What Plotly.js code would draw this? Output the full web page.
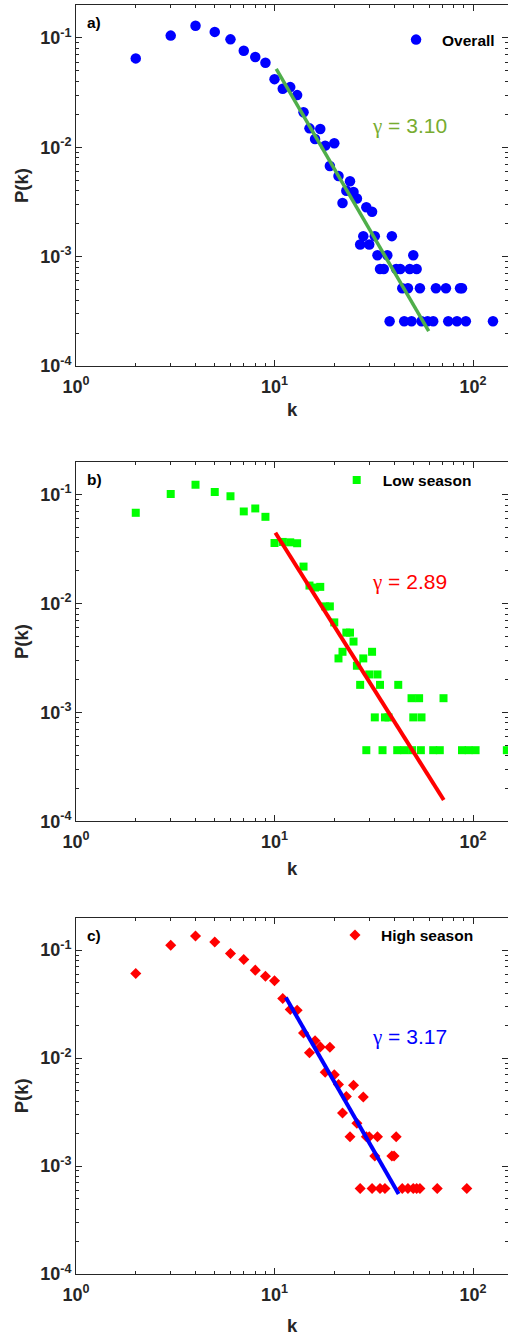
<!DOCTYPE html>
<html>
<head>
<meta charset="utf-8">
<script src="https://cdn.plot.ly/plotly-3.0.1.min.js"></script>
<style>html,body{margin:0;padding:0;background:#fff;}#chart{width:508px;height:1336px;}</style>
</head>
<body>
<div id="chart"></div>
<script>
// ---- Data ----
// a) Overall
const kA = [2,3,4,5,6,7,8,9,10,11,12,13,14,15,16,17,18,19,20,21,22,23,24,25,26,27,28,29,30,31,32,33,34,35.5,37,38,39,41,43,44,45,47,48,49,50,52,54,55,59,63,65,73,75,83,86,88,92,126];
const pA = [0.065,0.105,0.129,0.1135,0.097,0.0764,0.067,0.0593,0.042,0.0343,0.0355,0.030,0.0209,0.0149,0.0119,0.0147,0.01035,0.00675,0.0109,0.00546,0.0031,0.0040,0.0049,0.0039,0.0034,0.00129,0.00154,0.00283,0.00129,0.00257,0.00154,0.00103,0.00077,0.00077,0.00103,0.000257,0.00154,0.00077,0.00077,0.000514,0.000257,0.000514,0.00077,0.000257,0.00103,0.00077,0.000514,0.000257,0.000257,0.000257,0.000514,0.000514,0.000257,0.000257,0.000514,0.000514,0.000257,0.000257];
const fitKA = [10.2, 59.8];
const fitPA = [0.052, 0.000208];
const gammaA = "3.10";

// b) Low season
const kB = [2,3,4,5,6,7,8,9,10,11,12,13,14,15,16,17,18,19,20,21,22,23,24,25,26,27,28,29,30,31,32,33,34,35,36,37.5,41.5,42,45,49,49.3,50,53.5,54.6,55,63,68,71,88,95,103,148];
const pB = [0.0679,0.101,0.123,0.1057,0.0965,0.070,0.0745,0.0624,0.0359,0.0367,0.0364,0.0357,0.0218,0.0146,0.0140,0.0142,0.0094,0.0094,0.0067,0.00313,0.0036,0.0054,0.0054,0.00447,0.00268,0.00179,0.00313,0.00045,0.00223,0.0036,0.0009,0.00223,0.00179,0.00045,0.0009,0.0009,0.00045,0.00179,0.00045,0.00135,0.00045,0.0009,0.00135,0.00045,0.0009,0.00045,0.00045,0.00135,0.00045,0.00045,0.00045,0.00045];
const fitKB = [10.1, 71.2];
const fitPB = [0.0446, 0.000157];
const gammaB = "2.89";

// c) High season
const kC = [2,3,4,5,6,7,8,9,10,11,12,13,14,15,16,17,18,19,20,21,22,23,24,25,26,27,28,29,30,31,32,33,34,36,39,40,41,44,47,50,52,54,66,93];
const pC = [0.0608,0.111,0.135,0.119,0.093,0.082,0.0653,0.0574,0.052,0.0357,0.0282,0.0278,0.0171,0.0112,0.0145,0.0127,0.0074,0.0126,0.0070,0.0057,0.0031,0.0044,0.00187,0.0056,0.00249,0.00062,0.00436,0.00187,0.00187,0.00062,0.00124,0.00187,0.00062,0.00062,0.00124,0.00124,0.00187,0.00062,0.00062,0.00062,0.00062,0.00062,0.00062,0.00062];
const fitKC = [11.4, 42.2];
const fitPC = [0.0365, 0.00055];
const gammaC = "3.17";

const seriesNames = ["Overall", "Low season", "High season"];
const panelLabels = ["a)", "b)", "c)"];
const xTitle = "k";
const yTitle = "P(k)";
const xTickVals = [1, 10, 100];
const xTickText = ["10<sup>0</sup>", "10<sup>1</sup>", "10<sup>2</sup>"];
const yTickVals = [1e-4, 1e-3, 1e-2, 1e-1];
const yTickText = ["10<sup>-4</sup>", "10<sup>-3</sup>", "10<sup>-2</sup>", "10<sup>-1</sup>"];

// ---- Style ----
const AX = '#262626';
const FONT = 'Liberation Sans, Arial, Helvetica, sans-serif';
const minorX = [], minorY = [];
[1, 10, 100].forEach(d => { for (let m = 2; m <= 9; m++) minorX.push(m * d); });
[1e-4, 1e-3, 1e-2, 1e-1].forEach(d => { for (let m = 2; m <= 9; m++) minorY.push(m * d); });

function xAxis(anchor) {
  return {
    type: 'log', range: [0, Math.log10(150)], anchor: anchor,
    tickmode: 'array', tickvals: xTickVals, ticktext: xTickText,
    ticks: 'inside', ticklen: 6, tickwidth: 1, tickcolor: AX,
    showline: true, linecolor: AX, linewidth: 1, mirror: 'ticks',
    showgrid: false, zeroline: false, ticklabelstandoff: 4,
    minor: {tickmode: 'array', tickvals: minorX, ticks: 'inside', ticklen: 3, tickwidth: 1, tickcolor: AX, showgrid: false},
    tickfont: {family: FONT, size: 18, weight: 'bold', color: AX}
  };
}
function yAxis(anchor, domain) {
  return {
    type: 'log', range: [-4, Math.log10(0.2)], anchor: anchor, domain: domain,
    tickmode: 'array', tickvals: yTickVals, ticktext: yTickText,
    ticks: 'inside', ticklen: 6, tickwidth: 1, tickcolor: AX,
    showline: true, linecolor: AX, linewidth: 1, mirror: 'ticks',
    showgrid: false, zeroline: false,
    minor: {tickmode: 'array', tickvals: minorY, ticks: 'inside', ticklen: 3, tickwidth: 1, tickcolor: AX, showgrid: false},
    tickfont: {family: FONT, size: 18, weight: 'bold', color: AX},
    title: {text: yTitle, standoff: 6, font: {family: FONT, size: 18.5, weight: 'bold', color: AX}}
  };
}

const traces = [
  {type: 'scatter', mode: 'markers', x: kA, y: pA, xaxis: 'x', yaxis: 'y', name: seriesNames[0], legend: 'legend',
   marker: {symbol: 'circle', size: 10.5, color: '#0000ff'}},
  {type: 'scatter', mode: 'lines', x: fitKA, y: fitPA, xaxis: 'x', yaxis: 'y', showlegend: false,
   line: {color: '#4fae4a', width: 3.5}},
  {type: 'scatter', mode: 'markers', x: kB, y: pB, xaxis: 'x2', yaxis: 'y2', name: seriesNames[1], legend: 'legend2',
   marker: {symbol: 'square', size: 8, color: '#00ff00'}},
  {type: 'scatter', mode: 'lines', x: fitKB, y: fitPB, xaxis: 'x2', yaxis: 'y2', showlegend: false,
   line: {color: '#ff0000', width: 4}},
  {type: 'scatter', mode: 'markers', x: kC, y: pC, xaxis: 'x3', yaxis: 'y3', name: seriesNames[2], legend: 'legend3',
   marker: {symbol: 'diamond', size: 8.5, color: '#ff0000'}},
  {type: 'scatter', mode: 'lines', x: fitKC, y: fitPC, xaxis: 'x3', yaxis: 'y3', showlegend: false,
   line: {color: '#0000ff', width: 4}}
];

function legendCfg(x, y) {
  return {x: x, y: y, xref: 'paper', yref: 'paper', xanchor: 'left', yanchor: 'top',
    bgcolor: 'rgba(0,0,0,0)', borderwidth: 0, itemwidth: 42,
    font: {family: FONT, size: 15.5, weight: 'bold', color: '#000'}};
}

const gammaColors = ['#77ac30', '#ff0000', '#0000ff'];
const gammas = [gammaA, gammaB, gammaC];
const titleShift = [-43, -47, -51];
const annotations = [];
['', '2', '3'].forEach((s, i) => {
  annotations.push({xref: 'x' + s + ' domain', yref: 'y' + s + ' domain', x: 0.021, y: 0.951,
    xanchor: 'left', yanchor: 'middle', showarrow: false, text: panelLabels[i],
    font: {family: FONT, size: 15.5, weight: 'bold', color: '#000'}});
  annotations.push({xref: 'x' + s + ' domain', yref: 'y' + s + ' domain', x: 0.773, y: 0.665,
    xanchor: 'center', yanchor: 'middle', showarrow: false,
    text: '<span style="font-family:\'Liberation Serif\',\'DejaVu Serif\',serif">γ</span> = ' + gammas[i],
    font: {family: FONT, size: 21, color: gammaColors[i]}});
  annotations.push({xref: 'x' + s + ' domain', yref: 'y' + s + ' domain', x: 0.5, y: 0,
    xanchor: 'center', yanchor: 'middle', yshift: titleShift[i], showarrow: false, text: xTitle,
    font: {family: FONT, size: 18.5, weight: 'bold', color: AX}});
});

const layout = {
  width: 508, height: 1336,
  margin: {l: 76, r: 0, t: 5, b: 62},
  paper_bgcolor: '#fff', plot_bgcolor: '#fff',
  font: {family: FONT, color: AX},
  xaxis: xAxis('y'), yaxis: yAxis('x', [0.7155, 1.0]),
  xaxis2: xAxis('y2'), yaxis2: yAxis('x2', [0.3567, 0.6401]),
  xaxis3: xAxis('y3'), yaxis3: yAxis('x3', [0, 0.2808]),
  legend: legendCfg(0.727, 0.9858),
  legend2: legendCfg(0.5896, 0.6387),
  legend3: legendCfg(0.5856, 0.2802),
  annotations: annotations
};

Plotly.newPlot('chart', traces, layout, {staticPlot: true, displayModeBar: false});
</script>
</body>
</html>
